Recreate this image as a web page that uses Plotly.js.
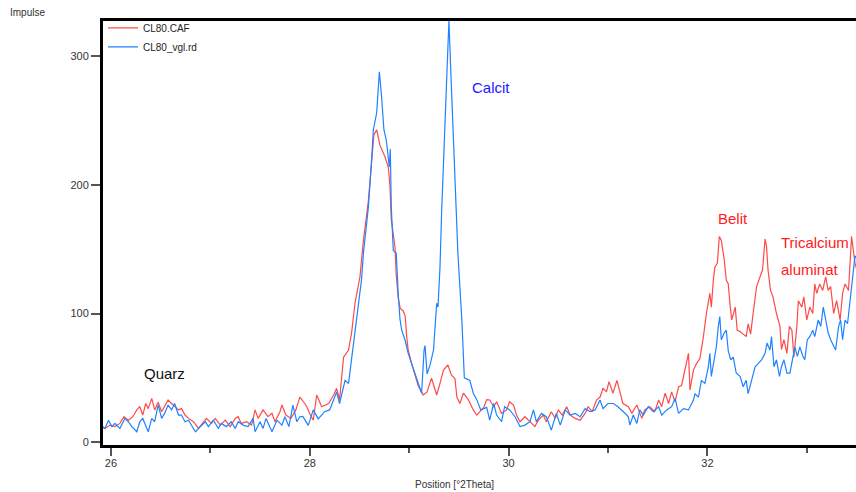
<!DOCTYPE html>
<html>
<head>
<meta charset="utf-8">
<script src="https://cdn.plot.ly/plotly-3.0.1.min.js"></script>
<style>html,body{margin:0;padding:0;background:#fff;}#chart{width:856px;height:492px;}</style>
</head>
<body>
<div id="chart"></div>
<script>
// CL80.CAF (red)
const redX = [25.92,25.94,25.99,26.04,26.09,26.13,26.175,26.22,26.26,26.29,26.32,26.35,26.375,26.41,26.44,26.475,26.51,26.54,26.575,26.61,26.64,26.68,26.71,26.745,26.78,26.83,26.88,26.93,26.96,27.01,27.05,27.10,27.15,27.20,27.25,27.28,27.31,27.365,27.415,27.45,27.48,27.53,27.58,27.62,27.65,27.70,27.72,27.76,27.81,27.86,27.90,27.95,27.97,28.00,28.035,28.07,28.12,28.19,28.24,28.27,28.30,28.34,28.39,28.42,28.455,28.505,28.54,28.59,28.62,28.645,28.673,28.706,28.756,28.79,28.807,28.82,28.857,28.87,28.89,28.91,28.94,28.96,28.975,28.99,29.025,29.06,29.09,29.14,29.18,29.225,29.277,29.31,29.345,29.39,29.425,29.46,29.48,29.51,29.545,29.595,29.645,29.68,29.75,29.78,29.81,29.85,29.88,29.93,29.98,30.01,30.05,30.08,30.115,30.165,30.215,30.265,30.30,30.35,30.38,30.43,30.47,30.50,30.54,30.585,30.62,30.67,30.72,30.77,30.80,30.84,30.885,30.92,30.95,30.985,31.01,31.05,31.09,31.12,31.15,31.205,31.24,31.29,31.34,31.37,31.42,31.47,31.51,31.54,31.575,31.61,31.64,31.675,31.71,31.74,31.775,31.81,31.825,31.86,31.89,31.925,31.96,31.99,32.025,32.04,32.06,32.075,32.10,32.12,32.14,32.17,32.19,32.21,32.23,32.245,32.28,32.30,32.33,32.36,32.39,32.41,32.435,32.46,32.495,32.53,32.555,32.58,32.595,32.61,32.635,32.66,32.695,32.73,32.745,32.77,32.80,32.825,32.85,32.87,32.90,32.915,32.95,32.97,33.00,33.03,33.06,33.08,33.10,33.13,33.16,33.19,33.215,33.24,33.27,33.30,33.335,33.36,33.385,33.42,33.45,33.485,33.50];
const redY = [11,10.6,13.2,12,14.5,19.7,17,19.7,25,27.5,21,30,26,34,25,31,23.6,27.5,32.7,30,27.5,25,26,21,18.4,15.8,10.6,15.8,18.4,14.5,18.4,13.2,17,12,18.4,19.7,14.5,15.8,13.2,25,18.4,25,19.7,22.3,15.8,23.6,28.8,21,18.4,25,35,30,27.5,22,17,36.6,27.5,30,36.6,41.8,33,66,71.6,84.6,108,128.6,157,188,214,239,243,231,222,214,199,173,152,130,112,104,102,98,82,71.6,61,51,44,36.6,39,49.6,36.6,45.6,56,60,52,49.6,35,30,38,33,25,21,27,33,32.7,27.5,31.4,22.3,25,31.4,28.8,21,15.8,19.7,15.8,12,17,21,15.8,23.6,18.4,25,21,27.5,21,18.4,17,22.3,27.5,23.6,32.7,35,41.8,39,47,38,48,38,30,27.5,22.3,28.8,18.4,25,27.5,23.6,32.7,27.5,38,30,39,31.4,43,44,56,69,40.5,56,61,65,82,100,115.7,105,126,136,139,160,157,141.6,126,123,105,95,105,87,86,84,82,92,84,100,121,128.6,134,158,152,134,118,113,100,90,72,79.6,69,90,87,66,90,110,105,113,95,105,100,123,115.7,123,118,128.6,118,121,100,110,95,115.7,123,118,160,139,135];

// CL80_vgl.rd (blue)
const blueX = [25.92,25.94,25.975,26.01,26.04,26.09,26.14,26.175,26.21,26.26,26.29,26.32,26.375,26.41,26.44,26.475,26.51,26.54,26.575,26.61,26.64,26.68,26.71,26.745,26.78,26.85,26.90,26.95,26.98,27.03,27.08,27.11,27.16,27.21,27.25,27.28,27.33,27.38,27.43,27.45,27.50,27.53,27.56,27.62,27.67,27.72,27.75,27.79,27.83,27.87,27.90,27.93,27.985,28.035,28.085,28.15,28.20,28.27,28.30,28.355,28.39,28.44,28.455,28.52,28.54,28.59,28.62,28.64,28.673,28.70,28.72,28.746,28.77,28.80,28.81,28.82,28.84,28.87,28.89,28.907,28.925,28.96,28.99,29.025,29.06,29.09,29.125,29.15,29.16,29.18,29.21,29.245,29.277,29.29,29.31,29.327,29.36,29.377,29.40,29.417,29.44,29.47,29.49,29.53,29.545,29.555,29.61,29.645,29.68,29.72,29.78,29.81,29.85,29.88,29.93,29.96,30.01,30.065,30.115,30.165,30.215,30.25,30.28,30.33,30.38,30.43,30.48,30.52,30.57,30.62,30.67,30.72,30.77,30.82,30.87,30.92,30.95,31.00,31.055,31.10,31.155,31.205,31.22,31.255,31.29,31.32,31.355,31.405,31.455,31.51,31.54,31.59,31.64,31.675,31.71,31.76,31.81,31.86,31.875,31.91,31.94,31.975,32.01,32.025,32.04,32.065,32.09,32.11,32.125,32.14,32.167,32.19,32.21,32.235,32.26,32.29,32.33,32.36,32.39,32.41,32.445,32.48,32.51,32.545,32.58,32.60,32.63,32.645,32.67,32.695,32.725,32.745,32.77,32.80,32.83,32.86,32.88,32.905,32.93,32.96,32.98,33.005,33.03,33.06,33.08,33.115,33.14,33.166,33.19,33.216,33.24,33.27,33.29,33.32,33.34,33.36,33.385,33.41,33.43,33.46,33.485,33.50];
const blueY = [12,10.6,17,12,14.5,10.6,18.4,15.8,12,8,15.8,18.4,8,18.4,15.8,28.8,18.4,22.3,28.8,25,30,21,21,15.8,17,8,12,15.8,12,17,10.6,14.5,12,15.8,10.6,15.8,13.2,12,18.4,8,15.8,10.6,18.4,8,17,13.2,19.7,12,28.8,15.8,19.7,20,13,25,18,23.6,25,39,30,48,45.6,77,82,126,147,183,217,243,256,288,271,243,235,214,228,183,149,147,115,96,87,79,69,61,53,45.6,38,71.6,75,53,60,71.6,108,105,136,180,251,289,328,292,245,199,147,95,65,50,48,38,33,25,27,17,30,21,15.8,27.5,25,19.7,12,13.2,15.8,25,15.8,22.3,19.7,9.3,22.3,13.2,25,21,22.3,19.7,26,23.6,25,32.7,26,30,30,27.5,23.6,19.7,13.2,21,14.5,25,21,27.5,23.6,27.5,21,25,27.5,33.9,22.3,26,25,32.7,37.6,35,48,45.6,58.6,69,51,61,74,90,97.6,79.6,84.6,87,71,64,66,53.7,51,43,48,37.6,48,58.6,61,64,69,77,71.6,82,58.6,64,51,58.6,64,53.7,53.7,66.7,74,66.7,74,66.7,64,79.6,82,87,82,95,90,105,95,84.6,79.6,74,71.6,90,95,79.6,95,92,105,126,145,143];

const seriesNames = ["CL80.CAF", "CL80_vgl.rd"];
const xTickVals = [26, 28, 30, 32];
const yTickVals = [0, 100, 200, 300];

const FONT = "Liberation Sans, Arial, Helvetica, sans-serif";

const traces = [
  {x: redX, y: redY, name: seriesNames[0], type: "scatter", mode: "lines",
   line: {color: "#ff4a4a", width: 1.2}},
  {x: blueX, y: blueY, name: seriesNames[1], type: "scatter", mode: "lines",
   line: {color: "#1f82ff", width: 1.2}}
];

const layout = {
  width: 856, height: 492,
  margin: {l: 103, r: 0, t: 21, b: 47, pad: 0},
  paper_bgcolor: "#fff", plot_bgcolor: "#fff",
  font: {family: FONT, size: 11, color: "#333"},
  showlegend: true,
  legend: {x: 0, y: 1.018, xanchor: "left", yanchor: "top", bgcolor: "rgba(0,0,0,0)",
           font: {family: FONT, size: 10, color: "#222"}, itemwidth: 30,
           tracegroupgap: 0},
  xaxis: {range: [25.92, 33.495], tickvals: xTickVals, ticks: "outside", ticklen: 8,
          tickwidth: 2, tickcolor: "#555", showgrid: false, zeroline: false,
          showline: true, linecolor: "#000", linewidth: 3, mirror: true,
          ticklabelstandoff: -2,
          tickfont: {family: FONT, size: 11, color: "#333"},
          minor: {dtick: 1, tick0: 27, ticks: "outside", ticklen: 5, tickwidth: 2, tickcolor: "#555", showgrid: false}},
  yaxis: {range: [-2.3, 327.6], tickvals: yTickVals, ticks: "outside", ticklen: 9,
          tickwidth: 2, tickcolor: "#555", showgrid: false, zeroline: false,
          showline: true, linecolor: "#000", linewidth: 3, mirror: false,
          tickfont: {family: FONT, size: 11, color: "#333"}},
  annotations: [
    {text: "Impulse", xref: "paper", yref: "paper", x: -0.126, y: 1.019, xanchor: "left", yanchor: "middle",
     showarrow: false, font: {family: FONT, size: 10, color: "#333"}},
    {text: "Position [°2Theta]", xref: "paper", yref: "paper", x: 0.467, y: -0.093, xanchor: "center", yanchor: "middle",
     showarrow: false, font: {family: FONT, size: 10, color: "#333"}},
    {text: "Quarz", x: 26.54, y: 53.7, showarrow: false, font: {family: FONT, size: 15, color: "#111"}},
    {text: "Calcit", x: 29.82, y: 275.5, showarrow: false, font: {family: FONT, size: 15, color: "#1a1aff"}},
    {text: "Belit", x: 32.26, y: 174, showarrow: false, font: {family: FONT, size: 15, color: "#ff2020"}},
    {text: "Tricalcium", x: 33.08, y: 155, showarrow: false, font: {family: FONT, size: 15, color: "#ff2020"}},
    {text: "aluminat", x: 33.03, y: 134, showarrow: false, font: {family: FONT, size: 15, color: "#ff2020"}}
  ]
};

Plotly.newPlot("chart", traces, layout, {displayModeBar: false, staticPlot: true});
</script>
</body>
</html>
